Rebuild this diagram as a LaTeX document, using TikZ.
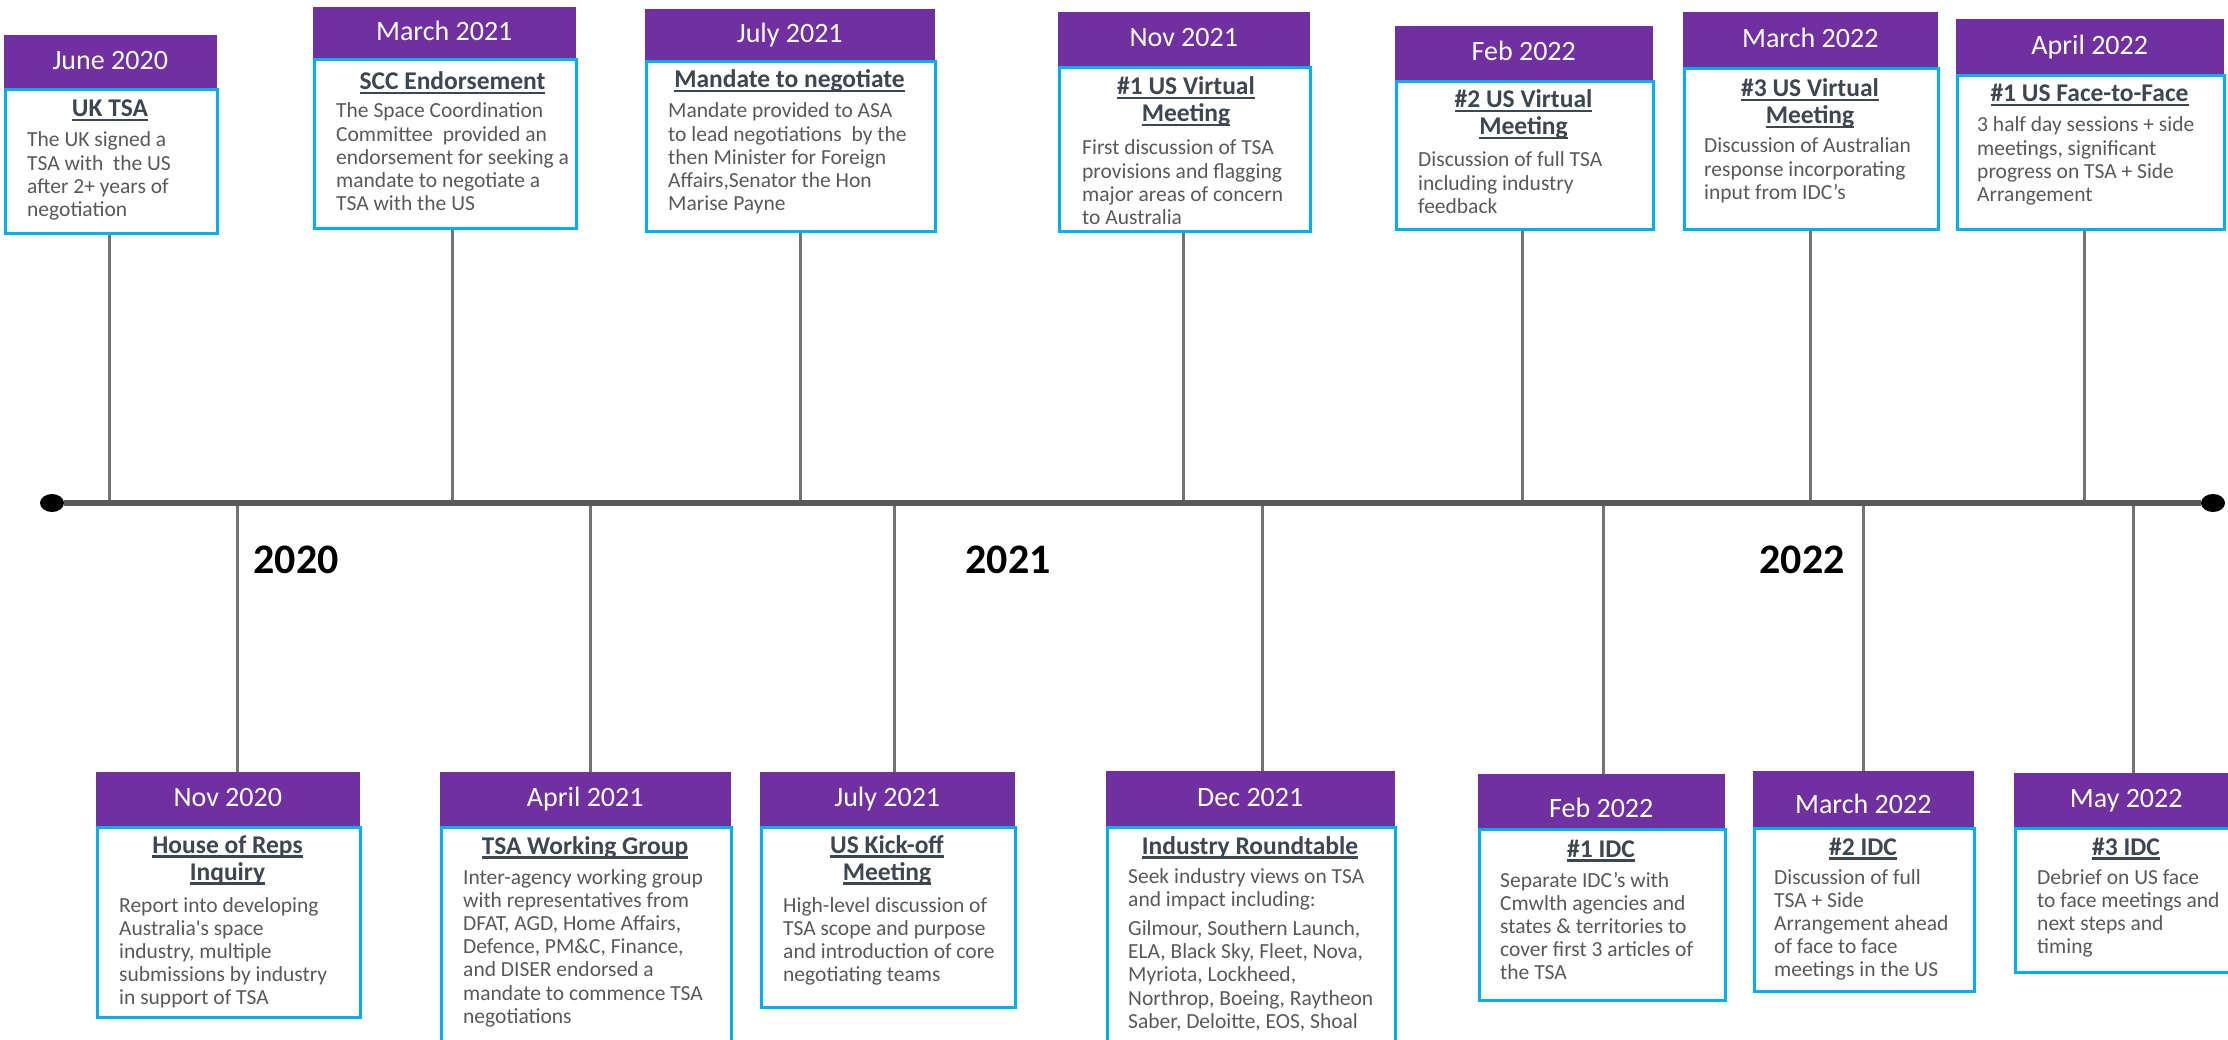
\documentclass[tikz,border=0pt]{standalone}
\usepackage{fontspec}
\setmainfont{Carlito}
\usetikzlibrary{shapes.geometric}
\definecolor{hdrpurple}{HTML}{7030A0}
\definecolor{bordercyan}{HTML}{00B0F0}
\definecolor{titlegray}{HTML}{3E4650}
\definecolor{bodygray}{HTML}{595959}
\definecolor{axisgray}{HTML}{595959}
\definecolor{conngray}{HTML}{737373}
\newsavebox\ulbox
\newcommand\myul[1]{\sbox\ulbox{#1}\rlap{\vrule width \wd\ulbox height -2.3pt depth 4.5pt}\usebox\ulbox}
\newcommand\ctrstack[1]{\vtop{\halign{\hfil##\hfil\cr#1\crcr}}}
\newcommand\lftstack[1]{\vtop{\halign{##\hfil\cr#1\crcr}}}
\begin{document}
\begin{tikzpicture}[x=1pt,y=-1pt,
 hdr/.style={fill=hdrpurple, draw=hdrpurple, line width=0.5pt, text=white, font=\fontsize{28}{30}\selectfont, inner sep=0pt, text height=15pt, text depth=0pt, anchor=north west},
 bodyrect/.style={draw=bordercyan, line width=2.6pt, fill=white, inner sep=0pt, anchor=north west},
 ttl/.style={text=titlegray, font=\fontsize{25.5}{27}\selectfont\bfseries, inner sep=0pt, anchor=base},
 bodytxt/.style={text=bodygray, font=\fontsize{21.5}{23.2}\selectfont, inner sep=0pt, anchor=base west},
 yearlbl/.style={text=black, font=\fontsize{42}{44}\selectfont\bfseries, inner sep=0pt, anchor=base},
 conn/.style={draw=conngray, line width=3pt},
 axisline/.style={draw=axisgray, line width=6pt},
 enddot/.style={ellipse, fill=black, inner sep=0pt, minimum width=24pt, minimum height=18pt}
]
\useasboundingbox (0,0) rectangle (2228,1040);
\clip (0,0) rectangle (2228,1040);
\fill[white] (0,0) rectangle (2228,1040);

% ---------- top row ----------
% T1 June 2020
\node[hdr, minimum width=212pt, minimum height=53pt] (h1) at (4,35) {June 2020};
\node[bodyrect, minimum width=212pt, minimum height=144pt] (b1) at (4,88) {};
\node[ttl] (tt1) at (110,117) {\ctrstack{\myul{UK TSA}}};
\node[bodytxt] (tx1) at (27,147) {\lftstack{The UK signed a\cr TSA with\ \ the US\cr after 2+ years of\cr negotiation}};
% T2 March 2021
\node[hdr, minimum width=262pt, minimum height=51pt] (h2) at (313,7) {March 2021};
\node[bodyrect, minimum width=262pt, minimum height=169pt] (b2) at (313,58) {};
\node[ttl] (tt2) at (452.5,90) {\ctrstack{\myul{SCC Endorsement}}};
\node[bodytxt] (tx2) at (336,118) {\lftstack{The Space Coordination\cr Committee\ \ provided an\cr endorsement for seeking a\cr mandate to negotiate a\cr TSA with the US}};
% T3 July 2021
\node[hdr, minimum width=289pt, minimum height=51pt] (h3) at (645,9) {July 2021};
\node[bodyrect, minimum width=289pt, minimum height=170pt] (b3) at (645,60) {};
\node[ttl] (tt3) at (789.5,88) {\ctrstack{\myul{Mandate to negotiate}}};
\node[bodytxt] (tx3) at (668,118) {\lftstack{Mandate provided to ASA\cr to lead negotiations\ \ by the\cr then Minister for Foreign\cr Affairs,Senator the Hon\cr Marise Payne}};
% T4 Nov 2021
\node[hdr, minimum width=251pt, minimum height=54pt] (h4) at (1058,12) {Nov 2021};
\node[bodyrect, minimum width=251pt, minimum height=164pt] (b4) at (1058,66) {};
\node[ttl] (tt4) at (1186,95) {\ctrstack{\myul{\#1 US Virtual}\cr\myul{Meeting}}};
\node[bodytxt] (tx4) at (1082,155) {\lftstack{First discussion of TSA\cr provisions and flagging\cr major areas of concern\cr to Australia}};
% T5 Feb 2022
\node[hdr, minimum width=257pt, minimum height=54pt] (h5) at (1395,26) {Feb 2022};
\node[bodyrect, minimum width=257pt, minimum height=148pt] (b5) at (1395,80) {};
\node[ttl] (tt5) at (1523.5,108) {\ctrstack{\myul{\#2 US Virtual}\cr\myul{Meeting}}};
\node[bodytxt] (tx5) at (1418,167) {\lftstack{Discussion of full TSA\cr including industry\cr feedback}};
% T6 March 2022
\node[hdr, minimum width=254pt, minimum height=55pt] (h6) at (1683,12) {March 2022};
\node[bodyrect, minimum width=254pt, minimum height=161pt] (b6) at (1683,67) {};
\node[ttl] (tt6) at (1810,97) {\ctrstack{\myul{\#3 US Virtual}\cr\myul{Meeting}}};
\node[bodytxt] (tx6) at (1704,153) {\lftstack{Discussion of Australian\cr response incorporating\cr input from IDC’s}};
% T7 April 2022
\node[hdr, minimum width=267pt, minimum height=55pt] (h7) at (1956,19) {April 2022};
\node[bodyrect, minimum width=267pt, minimum height=154pt] (b7) at (1956,74) {};
\node[ttl] (tt7) at (2089.5,102) {\ctrstack{\myul{\#1 US Face-to-Face}}};
\node[bodytxt] (tx7) at (1977,132) {\lftstack{3 half day sessions + side\cr meetings, significant\cr progress on TSA + Side\cr Arrangement}};

% ---------- bottom row ----------
% B1 Nov 2020
\node[hdr, minimum width=263pt, minimum height=54pt] (h8) at (96,772) {Nov 2020};
\node[bodyrect, minimum width=263pt, minimum height=190pt] (b8) at (96,826) {};
\node[ttl] (tt8) at (227.5,853) {\ctrstack{\myul{House of Reps}\cr\myul{Inquiry}}};
\node[bodytxt] (tx8) at (119,912) {\lftstack{Report into developing\cr Australia\textquotesingle s space\cr industry, multiple\cr submissions by industry\cr in support of TSA}};
% B2 April 2021
\node[hdr, minimum width=290pt, minimum height=54pt] (h9) at (440,772) {April 2021};
\node[bodyrect, minimum width=290pt, minimum height=219pt] (b9) at (440,826) {};
\node[ttl] (tt9) at (585,854) {\ctrstack{\myul{TSA Working Group}}};
\node[bodytxt] (tx9) at (463,884) {\lftstack{Inter-agency working group\cr with representatives from\cr DFAT, AGD, Home Affairs,\cr Defence, PM\&C, Finance,\cr and DISER endorsed a\cr mandate to commence TSA\cr negotiations}};
% B3 July 2021
\node[hdr, minimum width=254pt, minimum height=54pt] (h10) at (760,772) {July 2021};
\node[bodyrect, minimum width=254pt, minimum height=180pt] (b10) at (760,826) {};
\node[ttl] (tt10) at (887,853) {\ctrstack{\myul{US Kick-off}\cr\myul{Meeting}}};
\node[bodytxt] (tx10) at (783,912) {\lftstack{High-level discussion of\cr TSA scope and purpose\cr and introduction of core\cr negotiating teams}};
% B4 Dec 2021
\node[hdr, minimum width=288pt, minimum height=55pt] (h11) at (1106,771) {Dec 2021};
\node[bodyrect, minimum width=288pt, minimum height=222pt] (b11) at (1106,826) {};
\node[ttl] (tt11) at (1250,854) {\ctrstack{\myul{Industry Roundtable}}};
\node[bodytxt] (tx11) at (1128,883) {\lftstack{Seek industry views on TSA\cr and impact including:\cr\noalign{\vskip6pt} Gilmour, Southern Launch,\cr ELA, Black Sky, Fleet, Nova,\cr Myriota, Lockheed,\cr Northrop, Boeing, Raytheon\cr Saber, Deloitte, EOS, Shoal}};
% B5 Feb 2022
\node[hdr, minimum width=246pt, minimum height=54pt, text height=32pt] (h12) at (1478,774) {Feb 2022};
\node[bodyrect, minimum width=246pt, minimum height=171pt] (b12) at (1478,828) {};
\node[ttl] (tt12) at (1601,857) {\ctrstack{\myul{\#1 IDC}}};
\node[bodytxt] (tx12) at (1500,887) {\lftstack{Separate IDC’s with\cr Cmwlth agencies and\cr states \& territories to\cr cover first 3 articles of\cr the TSA}};
% B6 March 2022
\node[hdr, minimum width=220pt, minimum height=56pt, text height=28pt] (h13) at (1753,771) {March 2022};
\node[bodyrect, minimum width=220pt, minimum height=163pt] (b13) at (1753,827) {};
\node[ttl] (tt13) at (1863,855) {\ctrstack{\myul{\#2 IDC}}};
\node[bodytxt] (tx13) at (1774,884) {\lftstack{Discussion of full\cr TSA + Side\cr Arrangement ahead\cr of face to face\cr meetings in the US}};
% B7 May 2022
\node[hdr, minimum width=224pt, minimum height=54pt] (h14) at (2014,773) {May 2022};
\node[bodyrect, minimum width=224pt, minimum height=144pt] (b14) at (2014,827) {};
\node[ttl] (tt14) at (2126,855) {\ctrstack{\myul{\#3 IDC}}};
\node[bodytxt] (tx14) at (2037,884) {\lftstack{Debrief on US face\cr to face meetings and\cr next steps and\cr timing}};

% ---------- connectors ----------
\coordinate (a1) at (109,503);
\coordinate (a2) at (452,503);
\coordinate (a3) at (800,503);
\coordinate (a4) at (1183,503);
\coordinate (a5) at (1522,503);
\coordinate (a6) at (1810,503);
\coordinate (a7) at (2084,503);
\coordinate (a8) at (237,503);
\coordinate (a9) at (590,503);
\coordinate (a10) at (894,503);
\coordinate (a11) at (1262,503);
\coordinate (a12) at (1603,503);
\coordinate (a13) at (1863,503);
\coordinate (a14) at (2133,503);
\foreach \i in {1,...,7}{\draw[conn] (b\i.south -| a\i) -- (a\i);}
\foreach \i in {8,...,14}{\draw[conn] (a\i) -- (h\i.north -| a\i);}

% ---------- axis ----------
\node[enddot] (ldot) at (52,503) {};
\node[enddot] (rdot) at (2213,503) {};
\draw[axisline] (ldot) -- (rdot);

% ---------- years ----------
\node[yearlbl] (y2020) at (296,573) {2020};
\node[yearlbl] (y2021) at (1008,573) {2021};
\node[yearlbl] (y2022) at (1802,573) {2022};
\end{tikzpicture}
\end{document}
